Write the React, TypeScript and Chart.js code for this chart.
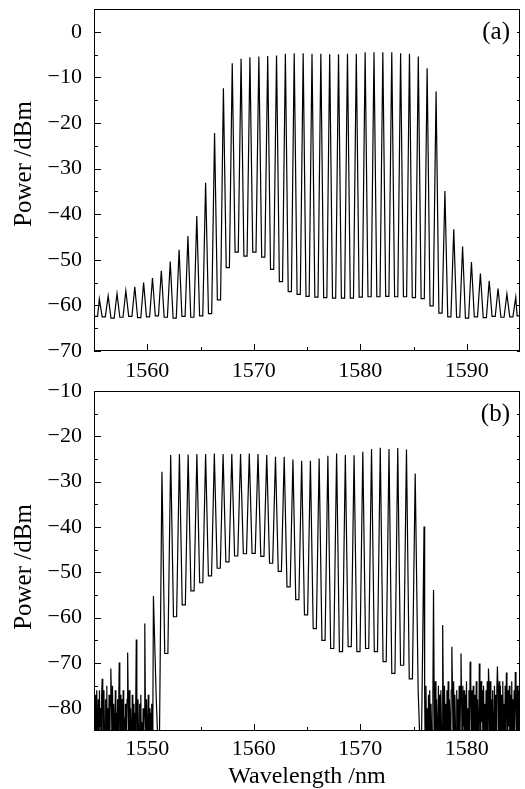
import React, { useEffect, useRef } from 'react';
import { Chart, registerables } from 'chart.js';

Chart.register(...registerables);

// ---------- Panel (a) ----------
const A_PEAK_NM = [
  1555.50, 1556.33, 1557.16, 1557.99, 1558.83, 1559.66, 1560.49, 1561.32, 1562.16, 1562.99,
  1563.82, 1564.65, 1565.48, 1566.32, 1567.15, 1567.98, 1568.81, 1569.64, 1570.48, 1571.31,
  1572.14, 1572.97, 1573.80, 1574.64, 1575.47, 1576.30, 1577.13, 1577.96, 1578.80, 1579.63,
  1580.46, 1581.29, 1582.12, 1582.96, 1583.79, 1584.62, 1585.45, 1586.28, 1587.12, 1587.95,
  1588.78, 1589.61, 1590.44, 1591.28, 1592.11, 1592.94, 1593.77, 1594.60,
];
const A_PEAK_DBM = [
  -58.6, -57.9, -57.4, -56.8, -55.9, -55.0, -54.0, -52.4, -50.4, -47.8,
  -44.8, -40.4, -33.1, -22.2, -12.4, -6.9, -5.9, -5.6, -5.4, -5.3,
  -5.2, -4.8, -4.7, -4.7, -4.8, -4.8, -4.9, -4.9, -4.8, -4.8,
  -4.5, -4.5, -4.5, -4.5, -4.7, -4.8, -5.4, -8.0, -13.1, -34.9,
  -43.3, -47.1, -50.5, -53.0, -54.6, -56.3, -57.5, -58.2,
];
// valleys: left edge, between each pair of peaks, right edge
const A_VALLEY_DBM = [
  -62.4,
  -62.5, -62.8, -62.6, -62.4, -62.7, -62.5, -62.3, -62.6, -62.8, -62.4, -62.6, -62.3,
  -61.8, -58.8, -51.7, -48.3, -49.2, -48.3, -49.4, -52.1, -54.8, -57.0, -57.6, -58.0,
  -58.2, -58.3, -58.4, -58.4, -58.4, -58.2, -58.1, -58.1, -58.0, -58.1, -58.1, -58.3,
  -58.5, -60.1, -61.7, -62.5, -62.6, -62.8, -62.5, -62.7, -62.4, -62.6, -62.5,
  -62.3,
];
const A_X_TICKS = [1560, 1570, 1580, 1590];
const A_X_MINOR = [1565, 1575, 1585];
const A_Y_TICKS = [0, -10, -20, -30, -40, -50, -60, -70];
const A_Y_MINOR = [-5, -15, -25, -35, -45, -55, -65];

// ---------- Panel (b) ----------
const B_PEAK_NM = [
  1545.77, 1546.58, 1547.37, 1548.16, 1548.97, 1549.77, 1550.58,
  1551.38, 1552.20, 1553.02, 1553.84, 1554.66, 1555.48, 1556.30, 1557.12, 1557.94, 1558.76,
  1559.58, 1560.40, 1561.22, 1562.04, 1562.86, 1563.68, 1564.50, 1565.32, 1566.14, 1566.96,
  1567.78, 1568.60, 1569.42, 1570.24, 1571.06, 1571.88, 1572.70, 1573.52, 1574.34, 1575.16,
  1575.99,
  1576.88, 1577.74, 1578.60, 1579.46, 1580.32, 1581.18, 1582.04, 1582.88, 1583.72, 1584.56,
];
const B_PEAK_DBM = [
  -73.5, -71.2, -69.9, -67.7, -64.8, -61.3, -55.2,
  -27.8, -24.1, -23.9, -24.0, -23.9, -23.9, -23.8, -23.9, -23.9, -23.9,
  -23.8, -23.9, -24.1, -24.5, -24.5, -25.1, -25.4, -25.4, -24.9, -24.3,
  -23.8, -24.1, -24.2, -23.4, -22.8, -22.5, -22.8, -22.6, -22.9, -28.2,
  -39.9,
  -53.9, -61.6, -66.4, -67.9, -69.7, -70.1, -71.2, -70.8, -72.1, -72.0,
];
const B_NOISE_LEFT = [
  [-75, -86, -77, -92, -76, -83, -89, -78, -95, -76, -84, -80, -91, -77],
  [-79, -90, -76, -85, -93, -78, -87, -75, -94, -80, -86, -77, -91, -79],
  [-77, -88, -75, -92, -79, -84, -90, -76, -87, -81, -95, -78, -85, -80],
  [-80, -93, -77, -86, -78, -91, -76, -88, -82, -95, -79, -84, -90, -78],
  [-78, -87, -76, -94, -80, -85, -91, -77, -89, -79, -93, -81, -86, -80],
  [-81, -92, -78, -86, -95, -79, -88, -77, -90, -83, -94, -80, -87, -82],
  [-79, -91, -78, -85, -93, -77, -89, -80, -95, -81, -86, -79, -92, -82],
];
const B_DROP_LEFT = [-78, -95];
const B_VALLEY_DBM = [
  -67.9, -59.8, -57.2, -54.1, -52.3, -50.8, -49.1, -47.7, -46.4, -45.9,
  -45.8, -46.5, -48.0, -49.8, -53.2, -56.0, -59.4, -62.4, -65.0, -66.8,
  -67.5, -66.4, -67.5, -66.8, -67.5, -69.7, -72.3, -70.5, -73.5,
];
const B_DROP_RIGHT = [-76, -95];
const B_NOISE_RIGHT = [
  [-78, -92, -75, -87, -80, -95, -77, -89, -76, -93, -79, -85, -91, -77],
  [-76, -89, -74, -93, -78, -85, -91, -75, -88, -77, -95, -76, -84, -90],
  [-77, -94, -75, -86, -79, -91, -76, -88, -74, -95, -78, -83, -92, -76],
  [-75, -88, -74, -92, -77, -85, -90, -76, -94, -78, -86, -75, -91, -79],
  [-78, -93, -75, -84, -76, -95, -77, -89, -74, -87, -80, -92, -76, -85],
  [-74, -87, -76, -91, -75, -85, -93, -77, -88, -74, -95, -78, -84, -90],
  [-77, -95, -74, -83, -76, -90, -75, -88, -79, -93, -76, -86, -74, -91],
  [-75, -90, -74, -86, -78, -94, -76, -85, -92, -75, -88, -77, -95, -76],
  [-76, -85, -74, -93, -75, -89, -77, -91, -74, -86, -79, -94, -75, -88],
  [-74, -92, -76, -84, -75, -90, -77, -95, -74, -87, -78, -91, -76, -86],
  [-77, -88, -75, -93, -76, -85],
];
const B_X_TICKS = [1550, 1560, 1570, 1580];
const B_X_MINOR = [1555, 1565, 1575];
const B_Y_TICKS = [-10, -20, -30, -40, -50, -60, -70, -80];
const B_Y_MINOR = [-15, -25, -35, -45, -55, -65, -75];

const Y_TITLE = 'Power /dBm';
const X_TITLE = 'Wavelength /nm';
const FONT = '"Liberation Serif", "Times New Roman", serif';

type Pt = { x: number; y: number };

function buildTrace(xMin: number, xMax: number, peaksNm: number[], peaksDb: number[], gaps: number[][]): Pt[] {
  const edges = [xMin, ...peaksNm, xMax];
  const pts: Pt[] = [];
  gaps.forEach((vals, g) => {
    const a = edges[g];
    const b = edges[g + 1];
    const w = b - a;
    const first = g === 0;
    const last = g === gaps.length - 1;
    if (first) pts.push({ x: a, y: vals[0] });
    if (vals.length === 1) {
      if (!first) pts.push({ x: a + 0.32 * w, y: vals[0] });
      if (!last) pts.push({ x: a + 0.68 * w, y: vals[0] });
    } else {
      vals.forEach((v, i) => pts.push({ x: a + (w * (i + 1)) / (vals.length + 1), y: v }));
    }
    if (last) pts.push({ x: b, y: vals[vals.length - 1] });
    else pts.push({ x: b, y: peaksDb[g] });
  });
  return pts;
}

const A_GAPS = A_VALLEY_DBM.map((v) => [v]);
const B_GAPS = [...B_NOISE_LEFT, B_DROP_LEFT, ...B_VALLEY_DBM.map((v) => [v]), B_DROP_RIGHT, ...B_NOISE_RIGHT];

type PanelDef = {
  xMin: number; xMax: number; yMin: number; yMax: number;
  xTicks: number[]; xMinor: number[]; yTicks: number[]; yMinor: number[];
  label: string; top: number; height: number; padTop: number; xAxisH: number; xTickPad: number;
  yTitleShift: number; xTitle: string | null; data: Pt[];
};

const PANELS: PanelDef[] = [
  {
    xMin: 1555, xMax: 1595, yMin: -70, yMax: 5,
    xTicks: A_X_TICKS, xMinor: A_X_MINOR, yTicks: A_Y_TICKS, yMinor: A_Y_MINOR,
    label: '(a)', top: 0, height: 395, padTop: 9, xAxisH: 44, xTickPad: 7, yTitleShift: -16, xTitle: null,
    data: buildTrace(1555, 1595, A_PEAK_NM, A_PEAK_DBM, A_GAPS),
  },
  {
    xMin: 1545, xMax: 1585, yMin: -85, yMax: -10,
    xTicks: B_X_TICKS, xMinor: B_X_MINOR, yTicks: B_Y_TICKS, yMinor: B_Y_MINOR,
    label: '(b)', top: 372, height: 417, padTop: 19, xAxisH: 58, xTickPad: 5, yTitleShift: 6, xTitle: X_TITLE,
    data: buildTrace(1545, 1585, B_PEAK_NM, B_PEAK_DBM, B_GAPS),
  },
];

const framePlugin = {
  id: 'frameTicks',
  afterDraw(chart: any, _args: any, opts: any) {
    const { ctx, chartArea } = chart;
    const { left, right, top, bottom } = chartArea;
    const xs = chart.scales.x;
    const ys = chart.scales.y;
    ctx.save();
    ctx.strokeStyle = '#000';
    ctx.lineWidth = 1;
    ctx.strokeRect(left + 0.5, top + 0.5, right - left - 1, bottom - top - 1);
    ctx.beginPath();
    const xt = (v: number, len: number) => {
      const px = Math.round(xs.getPixelForValue(v)) + 0.5;
      ctx.moveTo(px, bottom);
      ctx.lineTo(px, bottom - len);
    };
    const yt = (v: number, len: number) => {
      const py = Math.round(ys.getPixelForValue(v)) + 0.5;
      ctx.moveTo(left, py);
      ctx.lineTo(left + len, py);
      ctx.moveTo(right, py);
      ctx.lineTo(right - 3, py);
    };
    opts.xTicks.forEach((v: number) => xt(v, 7));
    opts.xMinor.forEach((v: number) => xt(v, 4));
    opts.yTicks.forEach((v: number) => yt(v, 7));
    opts.yMinor.forEach((v: number) => yt(v, 4));
    ctx.stroke();
    ctx.fillStyle = '#000';
    ctx.font = `25px ${FONT}`;
    ctx.textAlign = 'right';
    ctx.textBaseline = 'middle';
    ctx.fillText(opts.label, right - 10, top + 23);
    // y-axis title
    ctx.font = `25px ${FONT}`;
    ctx.textAlign = 'center';
    ctx.textBaseline = 'middle';
    ctx.translate(24, (top + bottom) / 2 + opts.yTitleShift);
    ctx.rotate(-Math.PI / 2);
    ctx.fillText(opts.yTitle, 0, 0);
    ctx.restore();
  },
};

function makeChart(canvas: HTMLCanvasElement, p: PanelDef) {
  const tickFont = { family: FONT, size: 22 };
  return new Chart(canvas, {
    type: 'line',
    data: {
      datasets: [
        {
          data: p.data as any,
          borderColor: '#000',
          borderWidth: 1.2,
          pointRadius: 0,
          tension: 0,
          fill: false,
        },
      ],
    },
    options: {
      responsive: false,
      animation: false,
      events: [],
      layout: { padding: { top: p.padTop, left: 0, right: 5, bottom: 0 } },
      plugins: {
        legend: { display: false },
        tooltip: { enabled: false },
        frameTicks: {
          xTicks: p.xTicks, xMinor: p.xMinor, yTicks: p.yTicks, yMinor: p.yMinor, label: p.label,
          yTitle: Y_TITLE, yTitleShift: p.yTitleShift,
        },
      } as any,
      scales: {
        x: {
          type: 'linear',
          min: p.xMin,
          max: p.xMax,
          afterBuildTicks: (s: any) => {
            s.ticks = p.xTicks.map((v) => ({ value: v }));
          },
          afterFit: (s: any) => {
            s.height = p.xAxisH;
            s.paddingLeft = 0;
            s.paddingRight = 0;
          },
          grid: { display: false, drawTicks: false },
          border: { display: false },
          ticks: {
            font: tickFont,
            color: '#000',
            padding: p.xTickPad,
            maxRotation: 0,
            autoSkip: false,
            callback: (v: any) => String(v),
          },
          title: p.xTitle
            ? { display: true, text: p.xTitle, color: '#000', font: { family: FONT, size: 24, lineHeight: 1 }, padding: 0 }
            : { display: false },
        },
        y: {
          type: 'linear',
          min: p.yMin,
          max: p.yMax,
          afterBuildTicks: (s: any) => {
            s.ticks = p.yTicks.map((v) => ({ value: v }));
          },
          afterFit: (s: any) => {
            s.width = 94;
            s.paddingTop = 0;
            s.paddingBottom = 0;
          },
          grid: { display: false, drawTicks: false },
          border: { display: false },
          ticks: {
            font: tickFont,
            color: '#000',
            padding: 12,
            autoSkip: false,
            callback: (v: any) => String(v).replace('-', '\u2212'),
          },
          title: { display: false },
        },
      },
    },
    plugins: [framePlugin],
  } as any);
}

export default function App() {
  const refA = useRef<HTMLCanvasElement>(null);
  const refB = useRef<HTMLCanvasElement>(null);

  useEffect(() => {
    const charts: Chart[] = [];
    if (refA.current) charts.push(makeChart(refA.current, PANELS[0]));
    if (refB.current) charts.push(makeChart(refB.current, PANELS[1]));
    return () => charts.forEach((c) => c.destroy());
  }, []);

  const style = (p: PanelDef): React.CSSProperties => ({
    position: 'absolute',
    left: 0,
    top: p.top,
    width: 525,
    height: p.height,
    display: 'block',
  });

  return (
    <div style={{ position: 'absolute', left: 0, top: 0, width: 525, height: 789, background: '#fff' }}>
      <canvas ref={refA} width={525} height={PANELS[0].height} style={style(PANELS[0])} />
      <canvas ref={refB} width={525} height={PANELS[1].height} style={style(PANELS[1])} />
    </div>
  );
}
